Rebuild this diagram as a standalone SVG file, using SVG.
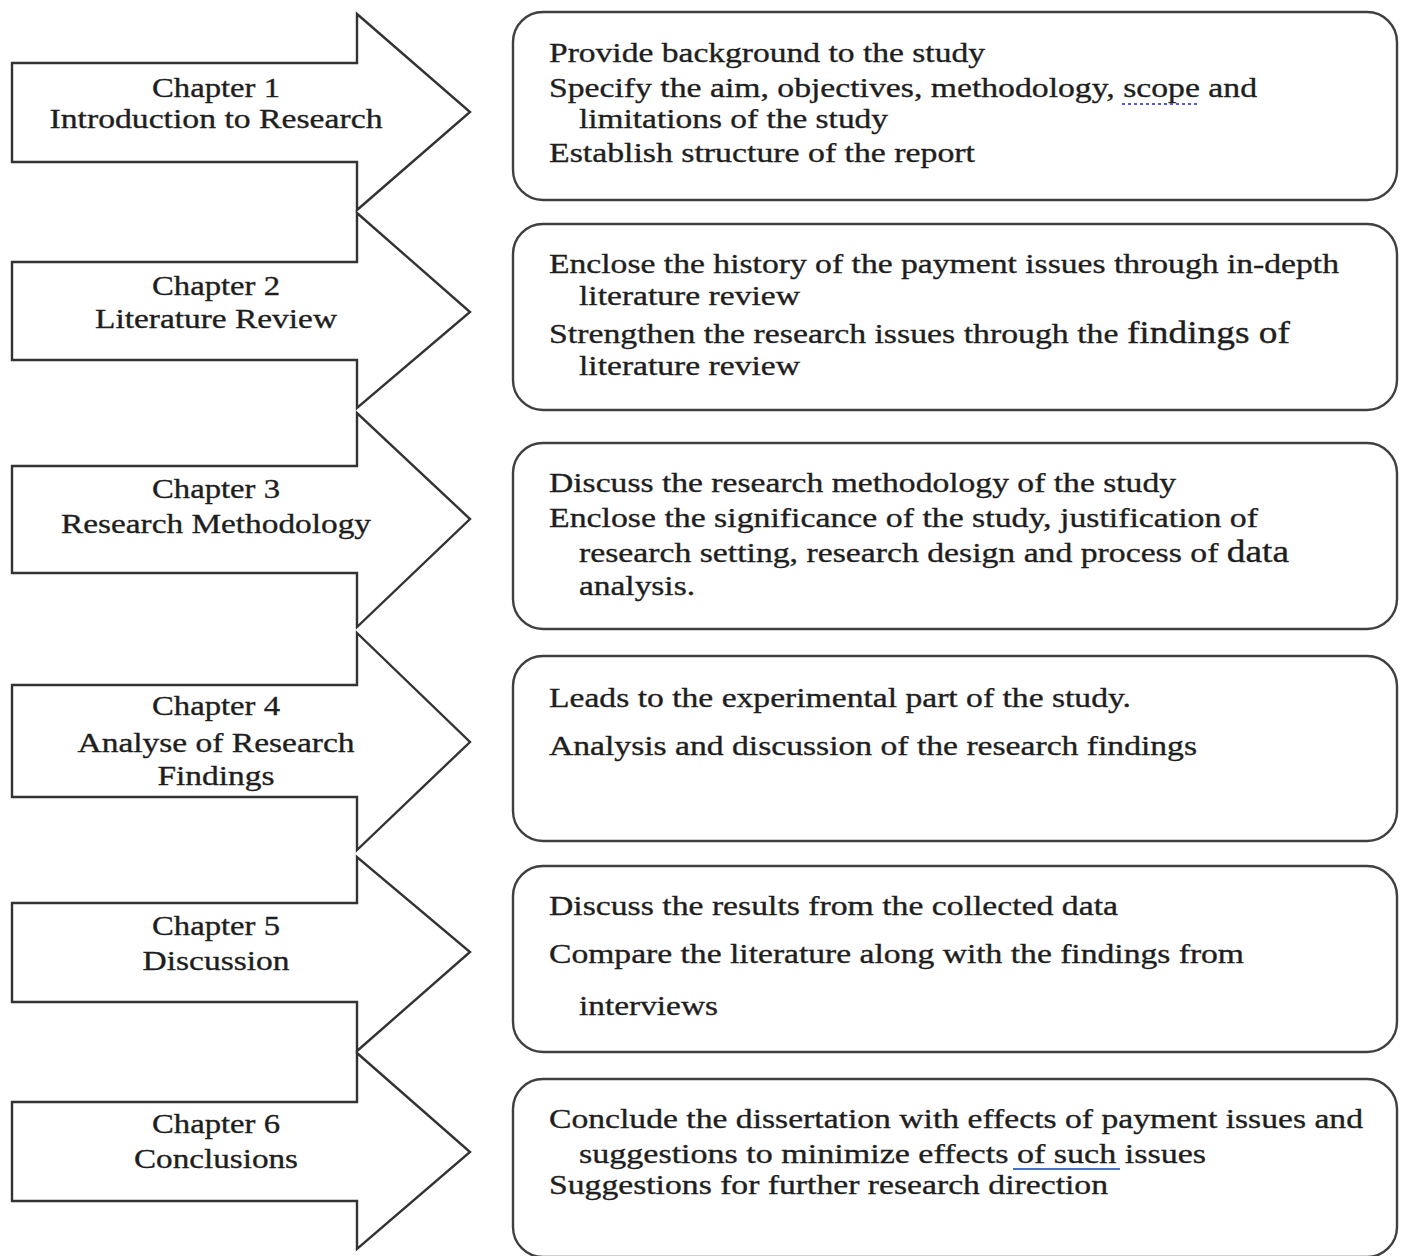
<svg xmlns="http://www.w3.org/2000/svg" width="1402" height="1256" viewBox="0 0 1402 1256">
<style>
.arrow{fill:#fff;stroke:#333;stroke-width:2.4;stroke-linejoin:miter}
.box{fill:#fff;stroke:#404040;stroke-width:2.4}
.t{font-family:"Liberation Serif","Times New Roman",serif;font-size:28px;fill:#1e1e1e;stroke:#1e1e1e;stroke-width:0.35}
.c{text-anchor:middle}
.big{font-size:31px}
</style>
<rect width="1402" height="1256" fill="#fff"/>
<g id="chapter1">
<polygon class="arrow" points="12,63 357,63 357,14 470,112 357,210 357,162 12,162"/>
<text class="t c" x="216" y="97" textLength="128" lengthAdjust="spacingAndGlyphs">Chapter 1</text>
<text class="t c" x="216" y="128" textLength="333" lengthAdjust="spacingAndGlyphs">Introduction to Research</text>
</g>
<g id="chapter2">
<polygon class="arrow" points="12,262 357,262 357,213 470,312 357,408 357,360 12,360"/>
<text class="t c" x="216" y="295" textLength="128" lengthAdjust="spacingAndGlyphs">Chapter 2</text>
<text class="t c" x="216" y="328" textLength="242" lengthAdjust="spacingAndGlyphs">Literature Review</text>
</g>
<g id="chapter3">
<polygon class="arrow" points="12,466 357,466 357,413 470,519 357,627 357,573 12,573"/>
<text class="t c" x="216" y="498" textLength="128" lengthAdjust="spacingAndGlyphs">Chapter 3</text>
<text class="t c" x="216" y="533" textLength="310" lengthAdjust="spacingAndGlyphs">Research Methodology</text>
</g>
<g id="chapter4">
<polygon class="arrow" points="12,685 357,685 357,633 470,742 357,850 357,797 12,797"/>
<text class="t c" x="216" y="715" textLength="128" lengthAdjust="spacingAndGlyphs">Chapter 4</text>
<text class="t c" x="216" y="752" textLength="277" lengthAdjust="spacingAndGlyphs">Analyse of Research</text>
<text class="t c" x="216" y="785" textLength="117" lengthAdjust="spacingAndGlyphs">Findings</text>
</g>
<g id="chapter5">
<polygon class="arrow" points="12,903 357,903 357,857 470,952 357,1051 357,1002 12,1002"/>
<text class="t c" x="216" y="935" textLength="128" lengthAdjust="spacingAndGlyphs">Chapter 5</text>
<text class="t c" x="216" y="970" textLength="147" lengthAdjust="spacingAndGlyphs">Discussion</text>
</g>
<g id="chapter6">
<polygon class="arrow" points="12,1102 357,1102 357,1053 470,1152 357,1249 357,1201 12,1201"/>
<text class="t c" x="216" y="1133" textLength="128" lengthAdjust="spacingAndGlyphs">Chapter 6</text>
<text class="t c" x="216" y="1168" textLength="164" lengthAdjust="spacingAndGlyphs">Conclusions</text>
</g>
<g id="box1">
<rect class="box" x="513" y="12" width="884" height="188" rx="30" ry="30"/>
<text class="t" x="549" y="62" textLength="436" lengthAdjust="spacingAndGlyphs">Provide background to the study</text>
<text class="t" x="549" y="97" textLength="708" lengthAdjust="spacingAndGlyphs">Specify the aim, objectives, methodology, scope and</text>
<line x1="1122" y1="104" x2="1200" y2="104" stroke="#5a5ad0" stroke-width="2" stroke-dasharray="3,3"/>
<text class="t" x="579" y="128" textLength="309" lengthAdjust="spacingAndGlyphs">limitations of the study</text>
<text class="t" x="549" y="162" textLength="426" lengthAdjust="spacingAndGlyphs">Establish structure of the report</text>
</g>
<g id="box2">
<rect class="box" x="513" y="224" width="884" height="186" rx="30" ry="30"/>
<text class="t" x="549" y="273" textLength="790" lengthAdjust="spacingAndGlyphs">Enclose the history of the payment issues through in-depth</text>
<text class="t" x="579" y="305" textLength="221" lengthAdjust="spacingAndGlyphs">literature review</text>
<text class="t" x="549" y="343" textLength="741" lengthAdjust="spacingAndGlyphs">Strengthen the research issues through the <tspan class="big">findings of</tspan></text>
<text class="t" x="579" y="375" textLength="221" lengthAdjust="spacingAndGlyphs">literature review</text>
</g>
<g id="box3">
<rect class="box" x="513" y="443" width="884" height="186" rx="30" ry="30"/>
<text class="t" x="549" y="492" textLength="627" lengthAdjust="spacingAndGlyphs">Discuss the research methodology of the study</text>
<text class="t" x="549" y="527" textLength="709" lengthAdjust="spacingAndGlyphs">Enclose the significance of the study, justification of</text>
<text class="t" x="579" y="562" textLength="710" lengthAdjust="spacingAndGlyphs">research setting, research design and process of <tspan class="big">data</tspan></text>
<text class="t" x="579" y="595" textLength="116" lengthAdjust="spacingAndGlyphs">analysis.</text>
</g>
<g id="box4">
<rect class="box" x="513" y="656" width="884" height="185" rx="30" ry="30"/>
<text class="t" x="549" y="707" textLength="582" lengthAdjust="spacingAndGlyphs">Leads to the experimental part of the study.</text>
<text class="t" x="549" y="755" textLength="648" lengthAdjust="spacingAndGlyphs">Analysis and discussion of the research findings</text>
</g>
<g id="box5">
<rect class="box" x="513" y="866" width="884" height="186" rx="30" ry="30"/>
<text class="t" x="549" y="915" textLength="569" lengthAdjust="spacingAndGlyphs">Discuss the results from the collected data</text>
<text class="t" x="549" y="963" textLength="695" lengthAdjust="spacingAndGlyphs">Compare the literature along with the findings from</text>
<text class="t" x="579" y="1015" textLength="139" lengthAdjust="spacingAndGlyphs">interviews</text>
</g>
<g id="box6">
<rect class="box" x="513" y="1079" width="884" height="178" rx="30" ry="30"/>
<text class="t" x="549" y="1128" textLength="814" lengthAdjust="spacingAndGlyphs">Conclude the dissertation with effects of payment issues and</text>
<text class="t" x="579" y="1163" textLength="627" lengthAdjust="spacingAndGlyphs">suggestions to minimize effects of  such issues</text>
<line x1="1013" y1="1169" x2="1120" y2="1169" stroke="#4a6fd0" stroke-width="2"/>
<text class="t" x="549" y="1194" textLength="559" lengthAdjust="spacingAndGlyphs">Suggestions for further research direction</text>
</g>
<g id="connectors"></g>
</svg>
